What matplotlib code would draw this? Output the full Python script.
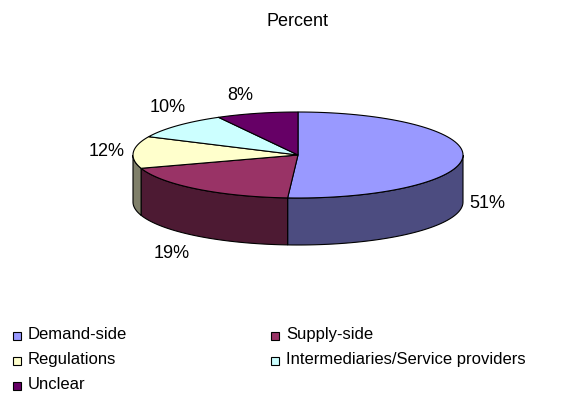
import numpy as np
import matplotlib.pyplot as plt
from matplotlib.patches import Polygon, Rectangle

plt.rcParams['font.family'] = ['Liberation Sans', 'DejaVu Sans']

# Дані діаграми
categories = ["Demand-side", "Supply-side", "Regulations",
              "Intermediaries/Service providers", "Unclear"]
percents = [51, 19, 12, 10, 8]
labels = ["51%", "19%", "12%", "10%", "8%"]
topColors = ["#9999FF", "#993366", "#FFFFCC", "#CCFFFF", "#660066"]
sideColors = ["#4C4C80", "#4D1A33", "#80806A", "#668080", "#330033"]

# Геометрія псевдо-3D кола (в пікселях)
cx, cy = 298, 155
rx, ry = 165, 43
depth = 47

fig = plt.figure(figsize=(5.84, 4.03), dpi=100)
ax = fig.add_axes([0, 0, 1, 1])
ax.set_xlim(0, 584)
ax.set_ylim(403, 0)
ax.axis('off')


def ellipsePoint(deg, dy=0):
    t = np.radians(deg)
    return cx + rx * np.cos(t), cy - ry * np.sin(t) + dy


# Кути сегментів: старт з 90°, за годинниковою стрілкою
total = sum(percents)
bounds = [90.0]
for p in percents:
    bounds.append(bounds[-1] - p / total * 360.0)

# Бічні грані (лише передня половина, 180°..360°)
for i in range(len(percents)):
    a0, a1 = bounds[i + 1], bounds[i]
    lo, hi = a0 % 360, a0 % 360 + (a1 - a0)
    for shift in (0, -360, 360):
        s, e = max(lo + shift, 180), min(hi + shift, 360)
        if e > s:
            ts = np.linspace(s, e, 60)
            top = [ellipsePoint(t) for t in ts]
            bottom = [ellipsePoint(t, depth) for t in ts[::-1]]
            ax.add_patch(Polygon(top + bottom, closed=True, facecolor=sideColors[i],
                                 edgecolor='black', linewidth=0.8))

# Верхні грані
for i in range(len(percents)):
    ts = np.linspace(bounds[i], bounds[i + 1], 80)
    pts = [(cx, cy)] + [ellipsePoint(t) for t in ts]
    ax.add_patch(Polygon(pts, closed=True, facecolor=topColors[i],
                         edgecolor='black', linewidth=0.8))

# Підписи відсотків
labelPos = [(487, 203), (172, 253), (107, 152), (168, 108), (240, 96)]
for lab, (lx, ly) in zip(labels, labelPos):
    ax.text(lx, ly, lab, fontsize=13, ha='center', va='center')

ax.text(298, 22, "Percent", fontsize=13, ha='center', va='center')

# Легенда
legendPos = [(17, 336), (275, 336), (17, 361), (275, 361), (17, 386)]
for cat, col, (lx, ly) in zip(categories, topColors, legendPos):
    ax.add_patch(Rectangle((lx - 4, ly - 4), 8, 8, facecolor=col,
                           edgecolor='black', linewidth=0.8))
    ax.text(lx + 11, ly - 1.5, cat, fontsize=12, ha='left', va='center')

fig.savefig("out.png", dpi=100)
